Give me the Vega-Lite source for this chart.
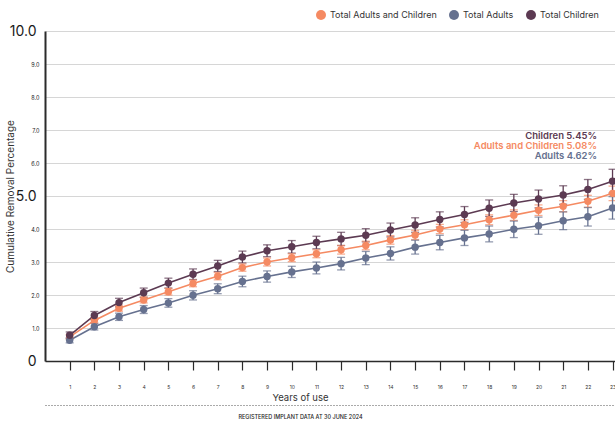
{
  "$schema": "https://vega.github.io/schema/vega-lite/v6.json",
  "width": 570,
  "height": 330,
  "autosize": "none",
  "padding": {"left": 45, "top": 31, "right": 0, "bottom": 66},
  "config": {
    "font": "Inter",
    "view": {"stroke": null},
    "legend": {"symbolType": "circle"}
  },
  "datasets": {
    "d": [
      {"year": 1, "series": "Total Adults and Children", "value": 0.73, "lo": 0.66, "hi": 0.80},
      {"year": 2, "series": "Total Adults and Children", "value": 1.23, "lo": 1.15, "hi": 1.31},
      {"year": 3, "series": "Total Adults and Children", "value": 1.60, "lo": 1.51, "hi": 1.69},
      {"year": 4, "series": "Total Adults and Children", "value": 1.85, "lo": 1.76, "hi": 1.94},
      {"year": 5, "series": "Total Adults and Children", "value": 2.10, "lo": 2.00, "hi": 2.20},
      {"year": 6, "series": "Total Adults and Children", "value": 2.35, "lo": 2.25, "hi": 2.45},
      {"year": 7, "series": "Total Adults and Children", "value": 2.57, "lo": 2.46, "hi": 2.68},
      {"year": 8, "series": "Total Adults and Children", "value": 2.83, "lo": 2.72, "hi": 2.94},
      {"year": 9, "series": "Total Adults and Children", "value": 3.00, "lo": 2.88, "hi": 3.12},
      {"year": 10, "series": "Total Adults and Children", "value": 3.13, "lo": 3.01, "hi": 3.25},
      {"year": 11, "series": "Total Adults and Children", "value": 3.25, "lo": 3.13, "hi": 3.37},
      {"year": 12, "series": "Total Adults and Children", "value": 3.37, "lo": 3.24, "hi": 3.50},
      {"year": 13, "series": "Total Adults and Children", "value": 3.50, "lo": 3.37, "hi": 3.63},
      {"year": 14, "series": "Total Adults and Children", "value": 3.67, "lo": 3.54, "hi": 3.80},
      {"year": 15, "series": "Total Adults and Children", "value": 3.82, "lo": 3.68, "hi": 3.96},
      {"year": 16, "series": "Total Adults and Children", "value": 4.00, "lo": 3.86, "hi": 4.14},
      {"year": 17, "series": "Total Adults and Children", "value": 4.13, "lo": 3.98, "hi": 4.28},
      {"year": 18, "series": "Total Adults and Children", "value": 4.28, "lo": 4.13, "hi": 4.43},
      {"year": 19, "series": "Total Adults and Children", "value": 4.42, "lo": 4.26, "hi": 4.58},
      {"year": 20, "series": "Total Adults and Children", "value": 4.57, "lo": 4.41, "hi": 4.73},
      {"year": 21, "series": "Total Adults and Children", "value": 4.69, "lo": 4.52, "hi": 4.86},
      {"year": 22, "series": "Total Adults and Children", "value": 4.84, "lo": 4.66, "hi": 5.02},
      {"year": 23, "series": "Total Adults and Children", "value": 5.08, "lo": 4.86, "hi": 5.30},
      {"year": 1, "series": "Total Adults", "value": 0.63, "lo": 0.55, "hi": 0.71},
      {"year": 2, "series": "Total Adults", "value": 1.04, "lo": 0.94, "hi": 1.14},
      {"year": 3, "series": "Total Adults", "value": 1.34, "lo": 1.23, "hi": 1.45},
      {"year": 4, "series": "Total Adults", "value": 1.56, "lo": 1.44, "hi": 1.68},
      {"year": 5, "series": "Total Adults", "value": 1.76, "lo": 1.63, "hi": 1.89},
      {"year": 6, "series": "Total Adults", "value": 1.99, "lo": 1.85, "hi": 2.13},
      {"year": 7, "series": "Total Adults", "value": 2.19, "lo": 2.04, "hi": 2.34},
      {"year": 8, "series": "Total Adults", "value": 2.41, "lo": 2.25, "hi": 2.57},
      {"year": 9, "series": "Total Adults", "value": 2.56, "lo": 2.39, "hi": 2.73},
      {"year": 10, "series": "Total Adults", "value": 2.70, "lo": 2.53, "hi": 2.87},
      {"year": 11, "series": "Total Adults", "value": 2.82, "lo": 2.64, "hi": 3.00},
      {"year": 12, "series": "Total Adults", "value": 2.95, "lo": 2.76, "hi": 3.14},
      {"year": 13, "series": "Total Adults", "value": 3.12, "lo": 2.92, "hi": 3.32},
      {"year": 14, "series": "Total Adults", "value": 3.26, "lo": 3.06, "hi": 3.46},
      {"year": 15, "series": "Total Adults", "value": 3.45, "lo": 3.24, "hi": 3.66},
      {"year": 16, "series": "Total Adults", "value": 3.59, "lo": 3.37, "hi": 3.81},
      {"year": 17, "series": "Total Adults", "value": 3.73, "lo": 3.50, "hi": 3.96},
      {"year": 18, "series": "Total Adults", "value": 3.85, "lo": 3.61, "hi": 4.09},
      {"year": 19, "series": "Total Adults", "value": 3.99, "lo": 3.74, "hi": 4.24},
      {"year": 20, "series": "Total Adults", "value": 4.10, "lo": 3.84, "hi": 4.36},
      {"year": 21, "series": "Total Adults", "value": 4.25, "lo": 3.98, "hi": 4.52},
      {"year": 22, "series": "Total Adults", "value": 4.37, "lo": 4.09, "hi": 4.65},
      {"year": 23, "series": "Total Adults", "value": 4.64, "lo": 4.30, "hi": 4.98},
      {"year": 1, "series": "Total Children", "value": 0.78, "lo": 0.68, "hi": 0.88},
      {"year": 2, "series": "Total Children", "value": 1.38, "lo": 1.26, "hi": 1.50},
      {"year": 3, "series": "Total Children", "value": 1.77, "lo": 1.64, "hi": 1.90},
      {"year": 4, "series": "Total Children", "value": 2.07, "lo": 1.93, "hi": 2.21},
      {"year": 5, "series": "Total Children", "value": 2.36, "lo": 2.21, "hi": 2.51},
      {"year": 6, "series": "Total Children", "value": 2.63, "lo": 2.47, "hi": 2.79},
      {"year": 7, "series": "Total Children", "value": 2.88, "lo": 2.71, "hi": 3.05},
      {"year": 8, "series": "Total Children", "value": 3.15, "lo": 2.97, "hi": 3.33},
      {"year": 9, "series": "Total Children", "value": 3.34, "lo": 3.16, "hi": 3.52},
      {"year": 10, "series": "Total Children", "value": 3.46, "lo": 3.27, "hi": 3.65},
      {"year": 11, "series": "Total Children", "value": 3.59, "lo": 3.40, "hi": 3.78},
      {"year": 12, "series": "Total Children", "value": 3.70, "lo": 3.50, "hi": 3.90},
      {"year": 13, "series": "Total Children", "value": 3.81, "lo": 3.61, "hi": 4.01},
      {"year": 14, "series": "Total Children", "value": 3.97, "lo": 3.76, "hi": 4.18},
      {"year": 15, "series": "Total Children", "value": 4.12, "lo": 3.90, "hi": 4.34},
      {"year": 16, "series": "Total Children", "value": 4.29, "lo": 4.06, "hi": 4.52},
      {"year": 17, "series": "Total Children", "value": 4.44, "lo": 4.20, "hi": 4.68},
      {"year": 18, "series": "Total Children", "value": 4.63, "lo": 4.38, "hi": 4.88},
      {"year": 19, "series": "Total Children", "value": 4.79, "lo": 4.53, "hi": 5.05},
      {"year": 20, "series": "Total Children", "value": 4.91, "lo": 4.64, "hi": 5.18},
      {"year": 21, "series": "Total Children", "value": 5.03, "lo": 4.75, "hi": 5.31},
      {"year": 22, "series": "Total Children", "value": 5.20, "lo": 4.90, "hi": 5.50},
      {"year": 23, "series": "Total Children", "value": 5.45, "lo": 5.09, "hi": 5.81}
    ],
    "ann": [
      {"series": "Total Children", "label": "Children 5.45%", "year": 22.37, "value": 6.83},
      {"series": "Total Adults and Children", "label": "Adults and Children 5.08%", "year": 22.37, "value": 6.52},
      {"series": "Total Adults", "label": "Adults 4.62%", "year": 22.37, "value": 6.21}
    ],
    "foot": [{"x": 0}]
  },
  "layer": [
    {
      "data": {"name": "d"},
      "encoding": {
        "x": {
          "field": "year",
          "type": "quantitative",
          "scale": {"domain": [0, 23.1], "nice": false, "zero": false},
          "axis": {
            "values": [1,2,3,4,5,6,7,8,9,10,11,12,13,14,15,16,17,18,19,20,21,22,23],
            "grid": false,
            "labelOverlap": false,
            "domainColor": "#2b2b2b",
            "domainWidth": 1.5,
            "tickColor": "#2b2b2b",
            "tickSize": 9,
            "tickWidth": 1.2,
            "labelFontSize": 5,
            "labelColor": "#333333",
            "labelPadding": 14,
            "labelFlush": false,
            "title": "Years of use",
            "titleFontSize": 9.5,
            "titleFontWeight": "normal",
            "titleColor": "#333333",
            "titleX": 255,
            "titleY": 36,
            "titleBaseline": "middle"
          }
        },
        "y": {
          "field": "value",
          "type": "quantitative",
          "scale": {"domain": [0, 10], "nice": false},
          "axis": {
            "values": [0,1,2,3,4,5,6,7,8,9,10],
            "labelOverlap": false,
            "grid": true,
            "gridColor": "#d6d6d6",
            "gridWidth": 1,
            "ticks": false,
            "labelExpr": "datum.value == 0 ? '0' : format(datum.value, '.1f')",
            "labelFontSize": {"condition": {"test": "datum.value % 5 == 0", "value": 14}, "value": 5.5},
            "labelPadding": {"condition": {"test": "datum.value % 5 == 0", "value": 9}, "value": 6},
            "labelColor": "#1a1a1a",
            "domainColor": "#2b2b2b",
            "domainWidth": 2,
            "title": "Cumulative Removal Percentage",
            "titleFontSize": 10,
            "titleFontWeight": "normal",
            "titleColor": "#333333",
            "titleX": -35,
            "titleY": 165,
            "titleAngle": -90,
            "titleAlign": "center",
            "titleBaseline": "middle"
          }
        },
        "color": {
          "field": "series",
          "type": "nominal",
          "scale": {
            "domain": ["Total Adults and Children", "Total Adults", "Total Children"],
            "range": ["#F58A62", "#66718F", "#5C3A52"]
          },
          "legend": {
            "title": null,
            "orient": "none",
            "direction": "horizontal",
            "legendX": 271,
            "legendY": -21,
            "symbolSize": 100,
            "symbolType": "circle",
            "symbolOpacity": 1,
            "symbolStrokeWidth": 0,
            "labelFontSize": 9,
            "labelColor": "#333333",
            "columnPadding": 12,
            "labelOffset": 4
          }
        }
      },
      "layer": [
        {
          "mark": {"type": "errorbar", "ticks": {"size": 8}, "thickness": 1.3},
          "encoding": {
            "y": {"field": "lo", "type": "quantitative"},
            "y2": {"field": "hi"}
          }
        },
        {
          "mark": {"type": "line", "strokeWidth": 1.6}
        },
        {
          "mark": {"type": "point", "filled": true, "size": 55, "opacity": 1}
        },
        {
          "data": {"name": "ann"},
          "mark": {"type": "text", "align": "right", "baseline": "middle", "fontSize": 9.5, "fontWeight": 600},
          "encoding": {
            "text": {"field": "label"}
          }
        }
      ]
    },
    {
      "data": {"name": "foot"},
      "mark": {"type": "point", "opacity": 0},
      "encoding": {
        "x": {
          "field": "x",
          "type": "quantitative",
          "scale": {"domain": [0, 1]},
          "axis": {
            "orient": "bottom",
            "offset": 44,
            "domainDash": [1, 2],
            "domainColor": "#555555",
            "domainWidth": 1,
            "ticks": false,
            "labels": false,
            "grid": false,
            "title": "REGISTERED IMPLANT DATA AT 30 JUNE 2024",
            "titleFontSize": 5.5,
            "titleFontWeight": 500,
            "titleColor": "#222222",
            "titleX": 255,
            "titlePadding": 9
          }
        }
      }
    }
  ],
  "resolve": {"scale": {"x": "independent"}, "axis": {"x": "independent"}}
}
